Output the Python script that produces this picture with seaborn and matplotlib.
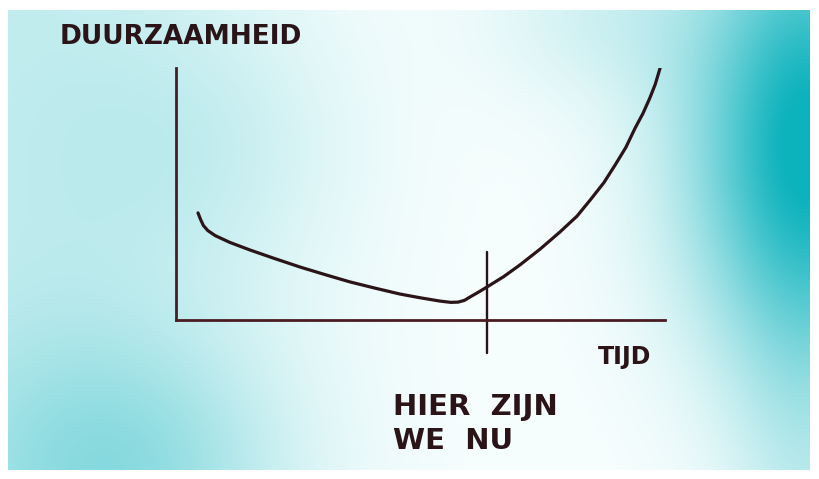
import numpy as np
import pandas as pd
import matplotlib
matplotlib.use("Agg")
import matplotlib.pyplot as plt
import seaborn as sns

# values (time 0..10, durability 0..10)
tijd = [0.45, 0.50, 0.56, 0.65, 0.80, 1.10, 1.51, 2.00, 2.54, 3.05, 3.56, 4.08, 4.58, 5.00,
        5.40, 5.62, 5.77, 5.90, 6.01, 6.18, 6.36, 6.70, 7.03, 7.45, 7.85, 8.20,
        8.47, 8.75, 8.98, 9.20, 9.39, 9.55, 9.69, 9.80, 9.90]
duurzaamheid = [4.25, 4.00, 3.75, 3.55, 3.35, 3.08, 2.78, 2.45, 2.10, 1.80, 1.51, 1.26, 1.03, 0.88,
                0.75, 0.70, 0.71, 0.78, 0.91, 1.10, 1.31, 1.72, 2.18, 2.82, 3.49, 4.12,
                4.76, 5.45, 6.15, 6.85, 7.62, 8.20, 8.81, 9.35, 10.0]
nu_x = 6.36
nu_y = [-1.31, 2.70]

y_label = "DUURZAAMHEID"
x_label = "TIJD"
nu_label = "HIER  ZIJN\nWE  NU"

df = pd.DataFrame({"tijd": tijd, "duurzaamheid": duurzaamheid})

sns.set_style("white")
plt.rcParams["font.family"] = ["DejaVu Sans"]

W, H = 819, 479
fig = plt.figure(figsize=(W / 100, H / 100), dpi=100)
fig.patch.set_facecolor("white")

# paper background with a teal wash at the edges
bg = fig.add_axes([8 / W, 1 - 470 / H, 802 / W, 460 / H])
gx, gy = np.meshgrid(np.linspace(0, 1, 400), np.linspace(0, 1, 240))
t = 0.22 * np.exp(-((gx - 0.0) / 0.30) ** 2)
t += 0.12 * np.exp(-((gx - 0.25) / 0.18) ** 2) * np.exp(-((gy - 0.3) / 0.3) ** 2)
t += 0.30 * np.exp(-((gx - 0.15) / 0.20) ** 2) * np.exp(-((gy - 1.0) / 0.30) ** 2)
t += 0.85 * np.exp(-((gx - 1.0) / 0.16) ** 2) * np.exp(-((gy - 0.3) / 0.45) ** 2)
t += 0.20 * np.exp(-((gx - 1.0) / 0.10) ** 2)
t += 0.15 * np.exp(-(gy / 0.2) ** 2) * np.exp(-((gx - 0.75) / 0.15) ** 2)
t = np.clip(t, 0, 1)[..., None]
paper = np.array([0.97, 0.995, 0.995])
teal = np.array([0.05, 0.70, 0.74])
img = paper * (1 - t) + teal * t
bg.imshow(img, aspect="auto", extent=[0, 1, 1, 0])
bg.set_axis_off()

# sketch axes
ax = fig.add_axes([176 / W, 1 - 320 / H, (665 - 176) / W, (320 - 68) / H])
ax.patch.set_alpha(0)
ax.set_xlim(0, 10)
ax.set_ylim(0, 10)
ink = "#2a1418"
axis_ink = "#4a1c22"

sns.lineplot(data=df, x="tijd", y="duurzaamheid", sort=False, color=ink,
             linewidth=2.3, ax=ax)
ax.plot([nu_x, nu_x], nu_y, color=ink, linewidth=1.7, clip_on=False)

for side in ["top", "right"]:
    ax.spines[side].set_visible(False)
for side in ["left", "bottom"]:
    ax.spines[side].set_color(axis_ink)
    ax.spines[side].set_linewidth(2.0)
ax.set_xticks([])
ax.set_yticks([])
ax.set_xlabel("")
ax.set_ylabel("")

fig.text(60 / W, 1 - 37 / H, y_label, fontsize=19, fontweight="bold", color=ink,
         va="center", ha="left")
fig.text(598 / W, 1 - 357 / H, x_label, fontsize=17, fontweight="bold", color=ink,
         va="center", ha="left")
fig.text(393 / W, 1 - 424 / H, nu_label, fontsize=21, fontweight="bold", color=ink,
         va="center", ha="left", linespacing=1.3)

plt.savefig("out.png", dpi=100)
